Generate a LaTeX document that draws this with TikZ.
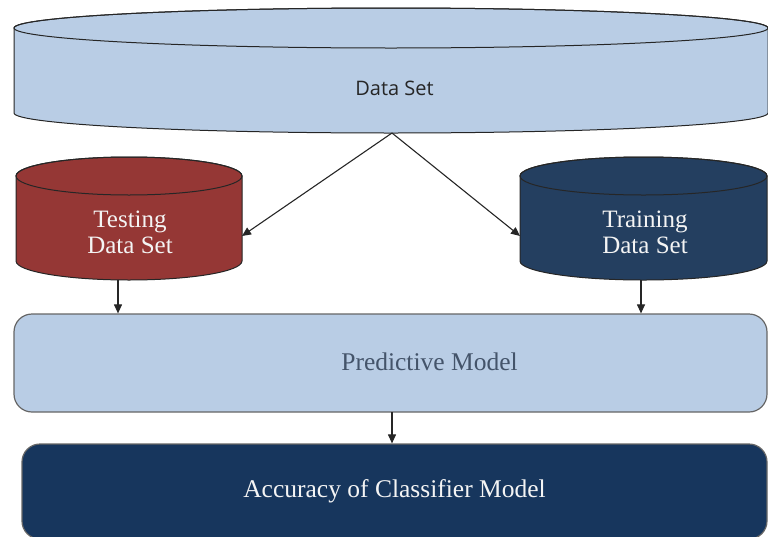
\documentclass[tikz,border=0pt]{standalone}
\usepackage{fontspec}
\setmainfont{Liberation Serif}
\newfontfamily\labelsans{Open Sans}
\usetikzlibrary{arrows.meta}

\definecolor{paleblue}{HTML}{B9CDE5}
\definecolor{brickred}{HTML}{953735}
\definecolor{deepnavy}{HTML}{243F60}
\definecolor{darknavy}{HTML}{17365D}
\definecolor{slatetext}{HTML}{44546A}
\definecolor{softwhite}{HTML}{F4F4F4}

\tikzset{
  rim/.style={draw=black!85, line width=1pt},
  conn/.style={-{Triangle[length=9pt,width=8pt]}, line width=1.1pt, draw=black!85},
  panel/.style={rounded corners=18pt, draw=black!60, line width=1.2pt, inner sep=0pt},
  cyltext/.style={text=softwhite, font=\fontsize{25}{26}\selectfont, align=center, inner sep=0pt},
  boxtext/.style={font=\fontsize{25.5}{26}\selectfont, inner sep=0pt},
}

% drum: centre x, upper rim y, lower rim y, x radius, y radius, fill colour
\newcommand\drumshape[6]{%
  \filldraw[rim, fill=#6] ({#1-#4},#2) -- ({#1-#4},#3)
    arc[start angle=180, end angle=0, x radius=#4, y radius=#5]
    -- ({#1+#4},#2)
    arc[start angle=0, end angle=-180, x radius=#4, y radius=#5] -- cycle;
  \draw[rim] (#1,#2) ellipse[x radius=#4, y radius=#5];}

\begin{document}
\begin{tikzpicture}[x=1pt, y=-1pt]
  \useasboundingbox (0,0) rectangle (768,536);
  \clip (0,0) rectangle (768,536);

  % full data set
  \drumshape{391}{28}{113}{377}{20}{paleblue}
  \node[font=\labelsans\fontsize{20}{22}\selectfont, text=black!85, inner sep=0pt] (dataset) at (394.5,88.5) {Data Set};
  \coordinate (dataset-foot) at (392,133);

  % testing split
  \drumshape{129}{176}{261}{113}{19}{brickred}
  \node[cyltext] (testing) at (130,232) {Testing\\Data Set};
  \coordinate (testing-side) at (242,236);
  \coordinate (testing-foot) at (118,280);

  % training split
  \drumshape{643.5}{176}{261}{123.5}{19}{deepnavy}
  \node[cyltext] (training) at (645,232) {Training\\Data Set};
  \coordinate (training-side) at (520,236);
  \coordinate (training-foot) at (641,280);

  % model and result panels
  \node[panel, fill=paleblue, minimum width=753pt, minimum height=98pt] (model) at (390.5,363) {};
  \node[boxtext, text=slatetext] (model-text) at (429.5,362) {Predictive Model};
  \coordinate (model-foot) at (392,412);

  \node[panel, fill=darknavy, minimum width=745pt, minimum height=95pt, boxtext, text=softwhite] (accuracy) at (394.5,491.5) {Accuracy of Classifier Model};

  % connectors
  \draw[conn] (dataset-foot) -- (testing-side);
  \draw[conn] (dataset-foot) -- (training-side);
  \draw[conn] (testing-foot) -- (testing-foot |- model.north);
  \draw[conn] (training-foot) -- (training-foot |- model.north);
  \draw[conn] (model-foot) -- (model-foot |- accuracy.north);
\end{tikzpicture}
\end{document}
